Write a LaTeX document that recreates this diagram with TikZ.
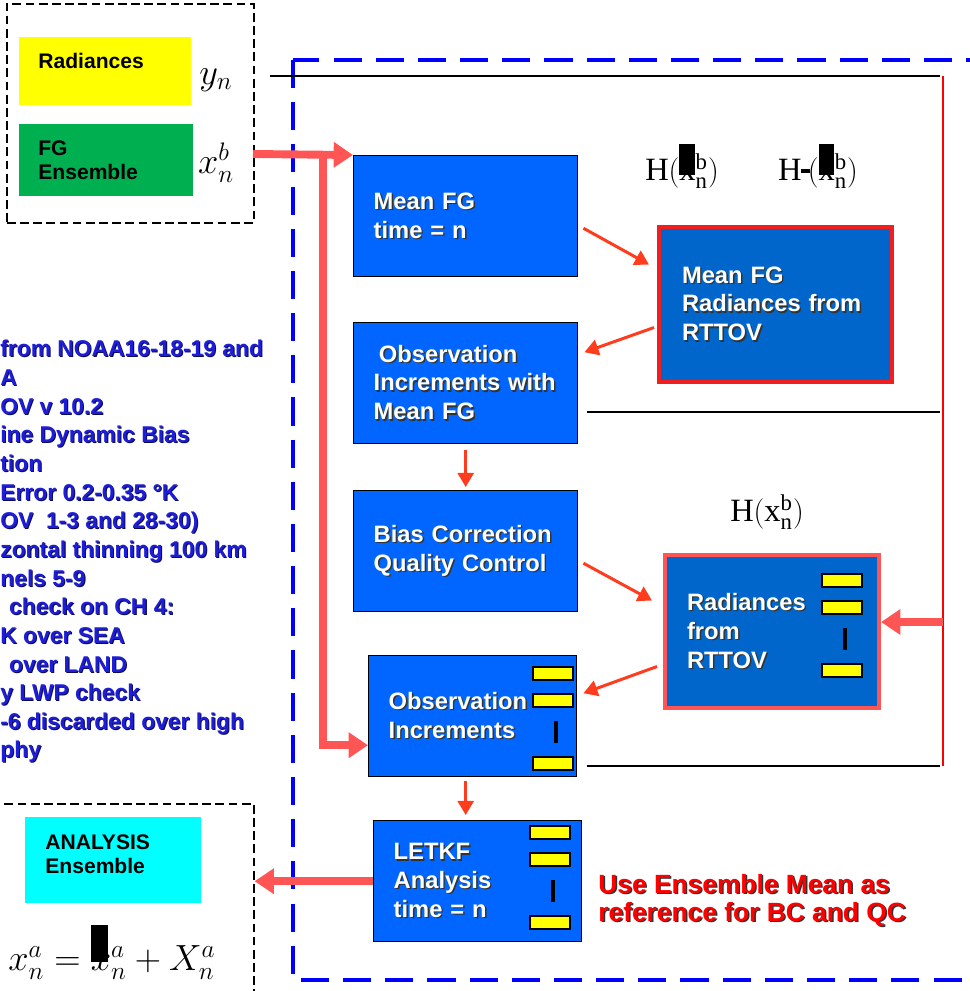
\documentclass[tikz,border=0pt]{standalone}
\usepackage{fontspec}
\setmainfont{Liberation Sans}
\setmathrm{Liberation Serif}
\usetikzlibrary{arrows.meta,positioning,calc}
\definecolor{BoxBlue}{RGB}{0,102,255}
\definecolor{RadBlue}{RGB}{0,102,204}
\definecolor{NoteBlue}{RGB}{30,30,215}
\definecolor{FatRed}{RGB}{255,85,85}
\definecolor{StepRed}{RGB}{255,60,30}
\definecolor{FrameBlue}{RGB}{0,0,255}
\definecolor{FGGreen}{RGB}{0,176,80}
\definecolor{AnCyan}{RGB}{0,255,255}
\definecolor{BarYellow}{RGB}{255,255,0}
\newcommand\shad[1]{\leavevmode\rlap{\kern.8pt\raisebox{-.8pt}{\color{black!80}#1}}#1}
\newcommand\nshad[1]{\leavevmode\rlap{\kern.6pt\raisebox{-.6pt}{\color{NoteBlue!40!black}#1}}#1}
\newcommand\blot[3]{\rlap{\rule[#1]{#2}{#3}}}

\begin{document}
\begin{tikzpicture}[x=0.2mm,y=-0.2mm,
  proc/.style={draw=black,line width=0.8pt,fill=BoxBlue,anchor=north west,align=left,
    text=white,font=\fontsize{13.5}{16.4}\selectfont\bfseries,inner xsep=4mm,minimum height=24.2mm},
  radbox/.style={proc,fill=RadBlue,line width=2.3pt},
  dashbox/.style={draw=black,line width=0.9pt,dash pattern=on 5pt off 2.5pt,anchor=north west,inner sep=0pt},
  tag/.style={anchor=north west,align=left,font=\fontsize{12}{13.6}\selectfont\bfseries,inner xsep=3.8mm},
  fatarrow/.style={draw=FatRed,line width=4.5pt,-{Triangle[length=11pt,width=14pt]}},
  steparrow/.style={draw=StepRed,line width=1.7pt,-{Triangle[length=8pt,width=9pt]}},
  hlabel/.style={font=\fontsize{18.5}{18.5}\selectfont}]
\clip (0,0) rectangle (970,991);

% input ensemble
\node[dashbox,minimum width=49.4mm,minimum height=43.8mm] (fgbox) at (6,3) {};
\node[tag,fill=BarYellow,text width=26.8mm,minimum height=13.6mm,text height=9pt,text depth=12pt] (radin) at (19,37) {Radiances};
\node[tag,fill=FGGreen,text width=27.2mm,minimum height=14.4mm] (fgens) at (19,124) {FG\\Ensemble};
\node[font=\fontsize{20}{20}\selectfont] (yn) at (216,80) {$y_n$};
\node[font=\fontsize{20}{20}\selectfont] (xb) at (216,163) {$x_n^b$};

% output ensemble
\node[dashbox,minimum width=51.6mm,minimum height=40mm] (anbox) at (-5,803) {};
\node[tag,fill=AnCyan,text width=27.2mm,minimum height=17.2mm,inner xsep=4mm,text depth=20.5pt] (anens) at (25,817) {ANALYSIS\\Ensemble};
\node[font=\fontsize{22}{22}\selectfont] (xa) at (112,952) {$x_n^a = \blot{5pt}{10pt}{21pt}x_n^a + X_n^a$};

% notes
\node[anchor=north west,inner sep=0pt,align=left,text=NoteBlue,font=\fontsize{13}{16.3}\selectfont\bfseries] (notes) at (0,340)
  {\nshad{from NOAA16-18-19 and}\\\nshad{A}\\\nshad{OV v 10.2}\\\nshad{ine Dynamic Bias}\\\nshad{tion}\\
   \nshad{Error 0.2-0.35 °K}\\\nshad{OV\ \ 1-3 and 28-30)}\\\nshad{zontal thinning 100 km}\\\nshad{nels 5-9}\\
   \nshad{\hspace*{5pt}check on CH 4:}\\\nshad{K over SEA}\\\nshad{\hspace*{5pt}over LAND}\\\nshad{y LWP check}\\
   \nshad{-6 discarded over high}\\\nshad{phy}};
\node[anchor=north west,inner sep=0pt,align=left,text=red,font=\fontsize{15}{16}\selectfont\bfseries] (usemean) at (598,874)
  {\shad{Use Ensemble Mean as}\\\shad{reference for BC and QC}};

% frame
\draw[FrameBlue,line width=2.8pt,dash pattern=on 16pt off 8pt] (293,60) rectangle (1010,980);
\draw[black,line width=0.9pt] (270,76) -- (940,76);
\draw[black,line width=0.9pt] (587,412) -- (940,412);
\draw[black,line width=0.9pt] (587,766) -- (940,766);
\draw[red,line width=0.8pt] (943,76) -- (943,766);

% processing steps
\node[proc,text width=36.8mm] (meanfg) at (353,155) {\shad{Mean FG}\\\shad{time = n}};
\node[radbox,draw={rgb,255:red,240;green,30;blue,30},text width=37.4mm,inner xsep=4.6mm,minimum height=31mm] (mfgrad) at (657,225)
  {\shad{Mean FG}\\\shad{Radiances from}\\\shad{RTTOV}};
\node[proc,text width=36.8mm] (obsmfg) at (353,322) {\shad{\hspace*{3pt}Observation}\\\shad{Increments with}\\\shad{Mean FG}};
\node[proc,text width=36.8mm] (biasqc) at (353,490) {\shad{Bias Correction}\\\shad{Quality Control}};
\node[radbox,draw=FatRed,text width=34mm,inner xsep=4.4mm,minimum height=30.6mm] (rad) at (663,553)
  {\shad{Radiances}\\\shad{from}\\\shad{RTTOV}};
\node[proc,text width=33.6mm] (obsinc) at (368,655) {\shad{Observation}\\\shad{Increments}};
\node[proc,text width=33.6mm] (letkf) at (373,820) {\shad{LETKF}\\\shad{Analysis}\\\shad{time = n}};

% member bars
\foreach \bx/\by in {533/667,822/574,530/826}{
  \foreach \dy in {0,27,90}
    \draw[fill=BarYellow,line width=1pt] (\bx,\by+\dy) rectangle ++(40,13);
  \draw[line width=2pt] (\bx+23,\by+54) -- ++(0,22);
}

% labels
\node[hlabel] (hmean) at (682,166) {$\mathrm{H}(\blot{3pt}{9pt}{18pt}\mathrm{x}^{\mathrm{b}}_{\mathrm{n}})$};
\node[hlabel] (hmeanb) at (818,166) {$\mathrm{H}\kern-.5pt\raisebox{4.5pt}{\rule{5pt}{2.2pt}}\kern-1pt(\blot{3pt}{9pt}{18pt}\mathrm{x}^{\mathrm{b}}_{\mathrm{n}})$};
\node[hlabel] (hens) at (767,512) {$\mathrm{H}(\mathrm{x}^{\mathrm{b}}_{\mathrm{n}})$};

% flow
\coordinate (fgout) at (253,154);
\coordinate (split) at (323,154);
\coordinate (rin) at (943,622);
\draw[fatarrow] (fgout) -- (meanfg.north west);
\draw[fatarrow] (split) |- ($(obsinc.west)+(0,29)$);
\draw[fatarrow] (rin) -- (rad.east |- rin);
\draw[fatarrow] (letkf.west) -- (letkf.west -| anbox.east);
\draw[steparrow] ($(meanfg.east)+(5,12)$) -- ($(mfgrad.west)+(-8,-40)$);
\draw[steparrow] ($(mfgrad.west)+(-3,23)$) -- ($(obsmfg.east)+(6,-31)$);
\draw[steparrow] ($(obsmfg.south)+(0,6)$) -- ($(biasqc.north)+(0,-3)$);
\draw[steparrow] ($(biasqc.east)+(5,12)$) -- ($(rad.west)+(-11,-31)$);
\draw[steparrow] ($(rad.west)+(-6,35)$) -- ($(obsinc.east)+(6,-23)$);
\draw[steparrow] ($(obsinc.south)+(-7,4)$) -- ($(letkf.north)+(-12,-5)$);
\end{tikzpicture}
\end{document}
